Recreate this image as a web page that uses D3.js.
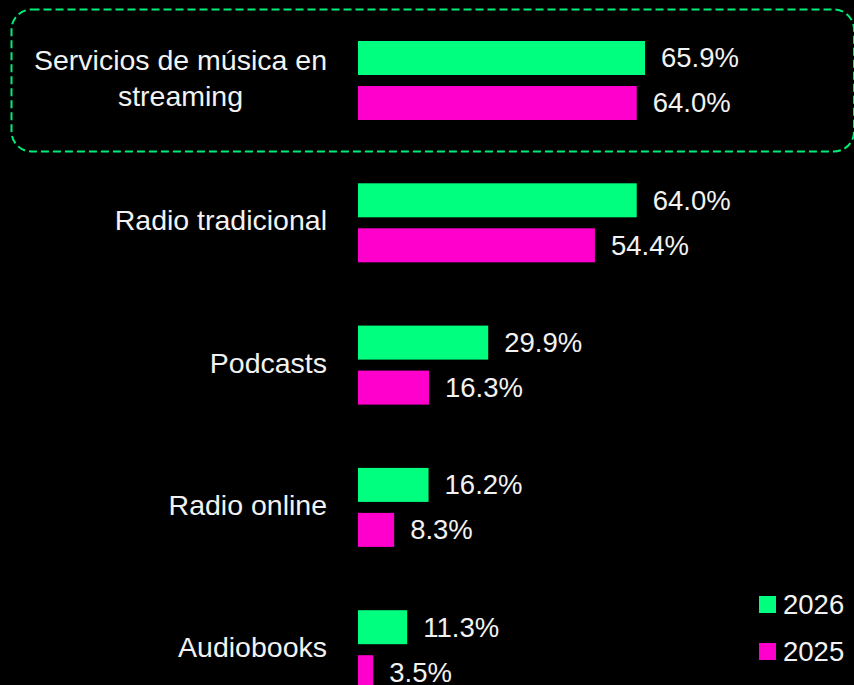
<!DOCTYPE html>
<html>
<head>
<meta charset="utf-8">
<script src="https://cdn.jsdelivr.net/npm/d3@7"></script>
<style>
  html, body { margin: 0; padding: 0; background: #000; }
  svg { display: block; }
</style>
</head>
<body>
<svg id="chart" width="854" height="685"></svg>
<script>
// Audio consumption by channel, share of respondents
const categories = [
  "Servicios de música en streaming",
  "Radio tradicional",
  "Podcasts",
  "Radio online",
  "Audiobooks"
];
const seriesNames = ["2026", "2025"];
const values2026 = [65.9, 64.0, 29.9, 16.2, 11.3];
const values2025 = [64.0, 54.4, 16.3, 8.3, 3.5];
const seriesColors = ["#00ff7f", "#ff00cc"];

const W = 854, H = 685;
const FONT = "'Liberation Sans', Arial, sans-serif";
const svg = d3.select("#chart");
svg.append("rect").attr("width", W).attr("height", H).attr("fill", "#000");

const x = d3.scaleLinear().domain([0, 100]).range([358, 793.5]);
const y = d3.scaleBand().domain(categories).range([41, 689.2]).paddingInner(0.4448).paddingOuter(0);
const ySeries = d3.scaleBand().domain(seriesNames).range([0, y.bandwidth()]).paddingInner(0.2444);
const color = d3.scaleOrdinal().domain(seriesNames).range(seriesColors);

const rows = categories.map((c, i) => ({
  category: c,
  values: [
    { series: "2026", value: values2026[i] },
    { series: "2025", value: values2025[i] }
  ]
}));

// Highlight frame around the first category
const first = categories[0];
svg.append("rect")
  .attr("x", 11.5)
  .attr("y", y(first) - 31.5)
  .attr("width", 854 - 11.5)
  .attr("height", y.bandwidth() + 63)
  .attr("rx", 20).attr("ry", 20)
  .attr("fill", "none")
  .attr("stroke", "#00ee77")
  .attr("stroke-width", 2)
  .attr("stroke-dasharray", "8,4");

const groups = svg.selectAll("g.cat")
  .data(rows)
  .join("g")
  .attr("class", "cat")
  .attr("transform", d => `translate(0,${y(d.category)})`);

groups.selectAll("rect.bar")
  .data(d => d.values)
  .join("rect")
  .attr("class", "bar")
  .attr("x", x(0))
  .attr("y", d => ySeries(d.series))
  .attr("width", d => x(d.value) - x(0))
  .attr("height", ySeries.bandwidth())
  .attr("fill", d => color(d.series));

groups.selectAll("text.val")
  .data(d => d.values)
  .join("text")
  .attr("class", "val")
  .attr("x", d => x(d.value) + 16)
  .attr("y", d => ySeries(d.series) + ySeries.bandwidth() / 2)
  .attr("dy", "0.34em")
  .attr("fill", "#f2f2f2")
  .attr("font-family", FONT)
  .attr("font-size", 27.5)
  .text(d => d.value.toFixed(1) + "%");

// Category labels, wrapped and right-aligned as a block
const labelRight = 327;
const maxLabelWidth = 300;
const labelSize = 28.5;
groups.each(function (d) {
  const g = d3.select(this);
  const words = d.category.split(" ");
  const probe = g.append("text").attr("font-family", FONT).attr("font-size", labelSize);
  const lines = [];
  let cur = [];
  words.forEach(w => {
    const test = cur.concat([w]).join(" ");
    probe.text(test);
    if (probe.node().getComputedTextLength() > maxLabelWidth && cur.length) {
      lines.push(cur.join(" "));
      cur = [w];
    } else {
      cur.push(w);
    }
  });
  lines.push(cur.join(" "));
  const widths = lines.map(l => { probe.text(l); return probe.node().getComputedTextLength(); });
  probe.remove();
  const blockW = d3.max(widths);
  const lineH = 36;
  const cy = y.bandwidth() / 2 - 2;
  const t = g.append("text")
    .attr("font-family", FONT)
    .attr("font-size", labelSize)
    .attr("fill", "#f2f2f2")
    .attr("text-anchor", lines.length > 1 ? "middle" : "end");
  lines.forEach((l, i) => {
    t.append("tspan")
      .attr("x", lines.length > 1 ? labelRight - blockW / 2 : labelRight)
      .attr("y", cy + (i - (lines.length - 1) / 2) * lineH)
      .attr("dy", "0.34em")
      .text(l);
  });
});

// Legend
const legend = svg.append("g").attr("transform", "translate(759,596)");
const li = legend.selectAll("g")
  .data(seriesNames)
  .join("g")
  .attr("transform", (d, i) => `translate(0,${i * 47})`);
li.append("rect")
  .attr("width", 17).attr("height", 17)
  .attr("fill", d => color(d));
li.append("text")
  .attr("x", 24).attr("y", 8.5).attr("dy", "0.34em")
  .attr("fill", "#f2f2f2")
  .attr("font-family", FONT)
  .attr("font-size", 27.5)
  .text(d => d);
</script>
</body>
</html>
